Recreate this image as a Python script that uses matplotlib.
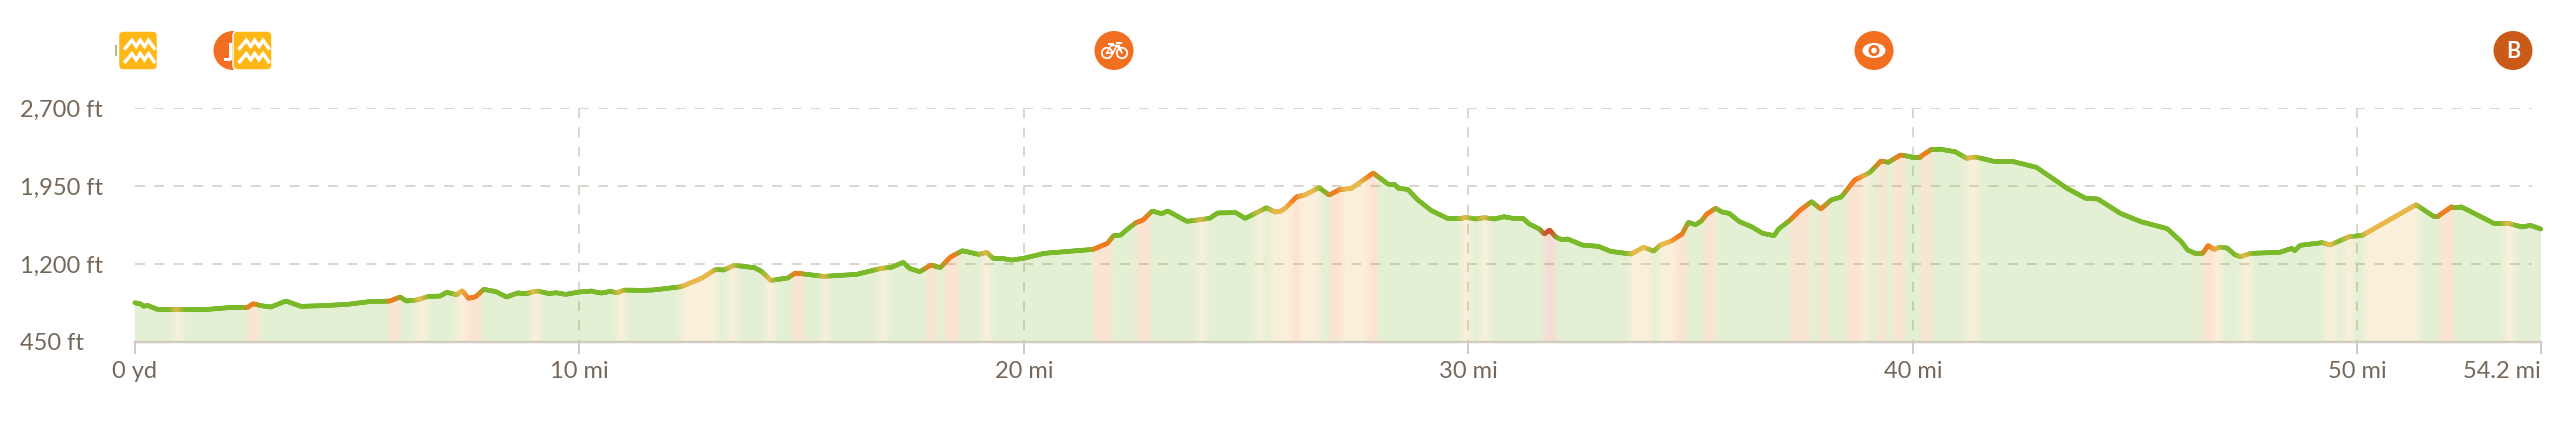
import matplotlib
matplotlib.use('Agg')
import matplotlib.pyplot as plt
import numpy as np
from matplotlib.collections import LineCollection
from matplotlib.colors import to_rgb
from matplotlib.patches import Circle, Ellipse, FancyBboxPatch, Rectangle

plt.rcParams['font.family'] = ['Lato', 'DejaVu Sans']
plt.rcParams['lines.scale_dashes'] = False

# elevation profile
distance_mi = [
    0, 0.14, 0.20, 0.29, 0.51, 0.92, 1.56, 2.11, 2.54, 2.66, 2.85, 3.06, 3.40, 3.74, 4.22, 4.78,
    5.28, 5.74, 5.97, 6.11, 6.34, 6.61, 6.87, 7.02, 7.24, 7.37, 7.51, 7.67, 7.85, 8.13, 8.36, 8.63,
    8.86, 9.07, 9.32, 9.48, 9.69, 10.0, 10.28, 10.39, 10.51, 10.70, 10.84, 11.02, 11.37, 11.65,
    12.29, 12.75, 13.07, 13.25, 13.48, 13.94, 14.11, 14.31, 14.69, 14.86, 15.50, 16.24, 16.79, 17.02,
    17.29, 17.43, 17.66, 17.91, 18.12, 18.35, 18.62, 18.99, 19.17, 19.31, 19.50, 19.72, 20.0, 20.46,
    21.56, 21.88, 22.02, 22.18, 22.31, 22.52, 22.68, 22.89, 23.10, 23.24, 23.67, 24.18, 24.36, 24.77,
    24.98, 25.46, 25.65, 25.77, 25.88, 26.14, 26.32, 26.64, 26.87, 27.10, 27.37, 27.86, 28.20, 28.34,
    28.43, 28.64, 28.84, 29.16, 29.53, 29.81, 29.94, 30.17, 30.36, 30.59, 30.80, 31.00, 31.23, 31.37,
    31.60, 31.71, 31.83, 31.96, 32.10, 32.24, 32.56, 32.93, 33.20, 33.66, 33.94, 34.17, 34.31, 34.58,
    34.81, 34.95, 35.11, 35.24, 35.36, 35.56, 35.71, 35.87, 36.10, 36.37, 36.62, 36.88, 36.97, 37.24,
    37.47, 37.72, 37.93, 38.16, 38.39, 38.69, 39.03, 39.28, 39.45, 39.72, 39.95, 40.17, 40.43, 40.58,
    40.95, 41.21, 41.41, 41.82, 42.23, 42.78, 43.47, 43.89, 44.16, 44.67, 45.13, 45.72, 46.04, 46.18,
    46.32, 46.53, 46.64, 46.78, 46.90, 47.07, 47.24, 47.37, 47.60, 48.25, 48.52, 48.59, 48.71, 49.21,
    49.39, 49.81, 50.11, 51.32, 51.69, 51.83, 52.12, 52.33, 53.07, 53.39, 53.71, 53.89, 54.13,
]
elevation_ft = [
    826, 813, 791, 800, 762, 762, 759, 778, 781, 816, 797, 784, 842, 791, 797, 810,
    836, 842, 881, 842, 852, 887, 890, 926, 903, 942, 868, 884, 955, 932, 881, 922,
    922, 939, 913, 922, 906, 929, 939, 926, 919, 935, 922, 948, 945, 948,
    980, 1061, 1147, 1141, 1186, 1164, 1125, 1041, 1064, 1112, 1080, 1099, 1157, 1167,
    1215, 1157, 1125, 1189, 1164, 1266, 1327, 1292, 1311, 1254, 1254, 1237, 1254, 1302,
    1340, 1398, 1472, 1478, 1527, 1597, 1623, 1710, 1684, 1710, 1610, 1639, 1691, 1694,
    1639, 1742, 1700, 1707, 1736, 1848, 1864, 1935, 1864, 1916, 1928, 2076, 1967, 1967,
    1928, 1919, 1826, 1716, 1639, 1636, 1649, 1633, 1646, 1633, 1655, 1639, 1639, 1585,
    1536, 1488, 1527, 1462, 1434, 1440, 1382, 1369, 1321, 1295, 1360, 1324, 1379, 1424,
    1488, 1601, 1578, 1613, 1678, 1736, 1700, 1687, 1607, 1559, 1495, 1472, 1533, 1623,
    1720, 1800, 1729, 1816, 1845, 2009, 2080, 2192, 2179, 2250, 2234, 2234, 2308, 2308,
    2282, 2218, 2231, 2189, 2189, 2131, 1928, 1832, 1826, 1687, 1607, 1540, 1414, 1334,
    1308, 1308, 1376, 1340, 1363, 1353, 1289, 1270, 1302, 1311, 1350, 1327, 1379, 1405,
    1382, 1462, 1475, 1771, 1665, 1665, 1752, 1752, 1591, 1591, 1556, 1572, 1536,
]

# steepness stretches: 1 yellow, 2 orange, 3 red, everything else green
band_start = [
    0.87, 2.52, 5.71, 6.33, 7.23, 7.44, 8.90, 10.83, 12.29, 13.34, 14.20, 14.79, 15.46, 16.74,
    17.78, 18.21, 19.06, 21.56, 22.52, 23.90, 25.23, 25.55, 26.00, 26.21, 26.87, 27.15, 27.70,
    29.85, 30.27, 31.69, 33.64, 34.26, 34.63, 35.30, 37.24, 37.89, 38.51, 38.85, 39.17, 39.58,
    40.17, 41.22, 46.53, 46.78, 47.37, 49.26, 49.72, 50.13, 51.83, 53.30,
]
band_end = [
    1.06, 2.77, 5.95, 6.56, 7.44, 7.80, 9.11, 11.02, 13.07, 13.53, 14.38, 15.04, 15.61, 16.90,
    17.98, 18.53, 19.25, 21.97, 22.85, 24.09, 25.37, 26.00, 26.21, 26.64, 27.15, 27.70, 27.95,
    30.04, 30.45, 31.96, 34.10, 34.63, 34.90, 35.54, 37.66, 38.07, 38.85, 38.99, 39.37, 39.81,
    40.40, 41.45, 46.78, 46.94, 47.59, 49.51, 49.90, 51.37, 52.15, 53.50,
]
band_level = [
    1, 2, 2, 1, 1, 2, 1, 1, 1, 1, 1, 2, 1, 1,
    2, 2, 1, 2, 2, 1, 1, 1, 2, 1, 2, 1, 2,
    1, 1, 3, 1, 1, 2, 2, 2, 2, 2, 1, 2, 2,
    2, 1, 2, 1, 1, 1, 1, 1, 2, 1,
]

y_ticks = [450, 1200, 1950, 2700]
y_labels = ['450 ft', '1,200 ft', '1,950 ft', '2,700 ft']
x_ticks = [0, 10, 20, 30, 40, 50, 54.13]
x_labels = ['0 yd', '10 mi', '20 mi', '30 mi', '40 mi', '50 mi', '54.2 mi']

level_colors = ['#7ab929', '#e8b84a', '#f47b20', '#d6492c']
TEXT = '#75685b'
GRID = '#dad7cf'
AXIS = '#d0ccc0'
ORANGE = '#f26f21'
YELLOW = '#ffb717'

W, H = 2560, 429
px = 72 / 100

fig = plt.figure(figsize=(W / 100, H / 100), dpi=100)
ax = fig.add_axes([134.7 / W, 1 - 341.7 / H, (2541 - 134.7) / W, (341.7 - 108.3) / H])

# colour along the route, softened at the band edges
grid_x = np.linspace(0, distance_mi[-1], 3000)
rgb = np.tile(to_rgb(level_colors[0]), (len(grid_x), 1))
for a, b, lev in zip(band_start, band_end, band_level):
    rgb[(grid_x >= a) & (grid_x < b)] = to_rgb(level_colors[lev])
k = 11
kernel = np.ones(k) / k
rgb = np.column_stack([
    np.convolve(np.pad(rgb[:, c], k, mode='edge'), kernel, mode='same')[k:-k] for c in range(3)
])

# grid sits under the pale fill
dash = (0, (7.2, 6.7))
ax.hlines(y_ticks[1:], 0, 53.93, colors=GRID, linewidth=2 * px, linestyles=[dash], zorder=1)
ax.vlines(x_ticks[1:-1], 2700, 450, colors=GRID, linewidth=2 * px, linestyles=[dash], zorder=1)

poly = ax.fill_between(distance_mi, 450, elevation_ft, color='none', linewidth=0)
img = ax.imshow(rgb[np.newaxis, :, :], extent=[0, distance_mi[-1], 450, 2700], aspect='auto',
                alpha=0.2, zorder=2, interpolation='bilinear')
img.set_clip_path(poly.get_paths()[0], ax.transData)

line_y = np.interp(grid_x, distance_mi, elevation_ft)
points = np.column_stack([grid_x, line_y])
segments = np.stack([points[:-1], points[1:]], axis=1)
ax.add_collection(LineCollection(segments, colors=rgb[:-1], linewidth=4.6 * px, capstyle='round',
                                 zorder=4, clip_on=False))

ax.set_xlim(0, distance_mi[-1])
ax.set_ylim(450, 2700)
for side in ['top', 'left', 'right']:
    ax.spines[side].set_visible(False)
ax.spines['bottom'].set_color(AXIS)
ax.spines['bottom'].set_linewidth(2.4 * px)
ax.spines['bottom'].set_zorder(3)

ax.set_xticks(x_ticks, x_labels)
ax.set_yticks(y_ticks, y_labels)
ax.tick_params(axis='x', length=12 * px, width=2 * px, color=AXIS, labelcolor=TEXT, labelsize=17, pad=7 * px)
ax.tick_params(axis='y', length=0, labelcolor=TEXT, labelsize=17, pad=115 * px)
for lab in ax.get_yticklabels():
    lab.set_ha('left')
ax.get_xticklabels()[-1].set_ha('right')

# waypoint icons along the top, in pixel coordinates
ov = fig.add_axes([0, 0, 1, 1], zorder=10)
ov.set_xlim(0, W)
ov.set_ylim(H, 0)
ov.axis('off')
ov.patch.set_alpha(0)


def water_icon(x0):
    ov.add_patch(FancyBboxPatch((x0 + 4, 35), 31, 31, boxstyle='round,pad=4,rounding_size=5',
                                fc=YELLOW, ec='white', lw=1.5 * px))
    xs = np.array([6.7, 13.4, 17.7, 21.7, 26, 30, 35.7]) + x0
    for base in (48.3, 61.7):
        ys = base - np.array([0, 8, 2, 8, 2, 8, 0])
        ov.plot(xs, ys, color='white', lw=3.4 * px, solid_joinstyle='miter')


ov.add_patch(Rectangle((115, 45), 2, 11, fc='#a9bd94', ec='none'))
water_icon(118.5)

ov.add_patch(Circle((233, 50.5), 19.5, fc=ORANGE, ec='none'))
ov.add_patch(Rectangle((229, 43), 3, 17, fc='white', ec='none'))
ov.add_patch(Rectangle((224, 58), 7, 3, fc='white', ec='none'))
water_icon(233)

# bike
ov.add_patch(Circle((1114, 50.5), 19.5, fc=ORANGE, ec='none'))
for wx in (1107, 1122):
    ov.add_patch(Circle((wx, 53), 5.2, fc='none', ec='white', lw=1.8 * px))
ov.plot([1107, 1111, 1119, 1122, 1117, 1113, 1107], [53, 45.5, 45.5, 53, 45.5, 53, 53],
        color='white', lw=1.6 * px)
ov.plot([1109, 1113], [44, 44], color='white', lw=2 * px)
ov.plot([1117, 1121], [43, 43], color='white', lw=2 * px)

# eye
ov.add_patch(Circle((1874, 50.5), 19.5, fc=ORANGE, ec='none'))
ov.add_patch(Ellipse((1874, 50.5), 23, 15, fc='white', ec='none'))
ov.add_patch(Circle((1874, 50.5), 5.6, fc=ORANGE, ec='none'))
ov.add_patch(Circle((1874, 50.5), 2.8, fc='white', ec='none'))

# end marker
ov.add_patch(Circle((2513, 50.5), 19.5, fc='#c95a18', ec='none'))
ov.text(2513, 51, 'B', color='white', fontsize=15.5, fontweight='bold', ha='center', va='center')

fig.savefig('out.png', dpi=100)
